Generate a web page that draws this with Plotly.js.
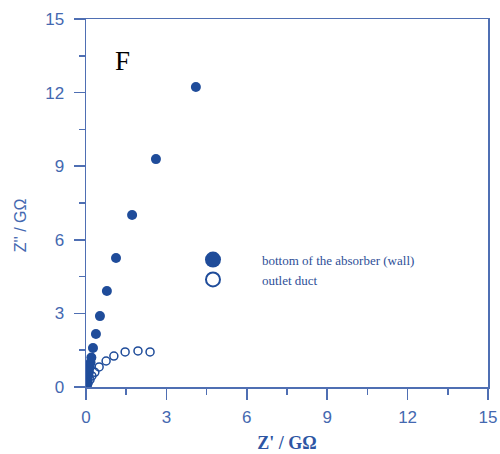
<!DOCTYPE html>
<html>
<head>
<meta charset="utf-8">
<script src="https://cdn.plot.ly/plotly-3.0.1.min.js"></script>
<style>html,body{margin:0;padding:0;background:#fff;}#chart{width:500px;height:454px;}</style>
</head>
<body>
<div id="chart"></div>
<script>
// bottom of the absorber (wall)
var wallX = [0.01, 0.02, 0.04, 0.06, 0.08, 0.11, 0.14, 0.17, 0.2, 0.26, 0.37, 0.52, 0.78, 1.12, 1.72, 2.61, 4.1];
var wallY = [0.04, 0.1, 0.2, 0.32, 0.45, 0.6, 0.8, 1.0, 1.2, 1.59, 2.16, 2.89, 3.91, 5.26, 7.01, 9.29, 12.23];
// outlet duct
var ductX = [0.02, 0.04, 0.08, 0.15, 0.22, 0.33, 0.49, 0.75, 1.04, 1.46, 1.94, 2.39];
var ductY = [0.03, 0.08, 0.16, 0.3, 0.45, 0.6, 0.82, 1.06, 1.26, 1.43, 1.47, 1.43];
var seriesNames = ['bottom of the absorber (wall)', 'outlet duct'];
var tickVals = [0, 3, 6, 9, 12, 15];
var tickText = ['0', '3', '6', '9', '12', '15'];

var dark = '#1f4c9a';
var axisCol = '#4f6fb3';
var labelCol = '#4468b0';
var serif = 'Liberation Serif, Times New Roman, serif';
var sans = 'Liberation Sans, Arial, sans-serif';

var traces = [
  {x: wallX, y: wallY, name: seriesNames[0], type: 'scatter', mode: 'markers', showlegend: false,
   marker: {color: dark, size: 10, line: {width: 0}}},
  {x: ductX, y: ductY, name: seriesNames[1], type: 'scatter', mode: 'markers', showlegend: false,
   marker: {color: 'rgba(255,255,255,0)', size: 8, line: {color: dark, width: 1.5}}},
  // legend entries (larger symbols, as in the original legend)
  {x: [null], y: [null], name: seriesNames[0], type: 'scatter', mode: 'markers',
   marker: {color: dark, size: 17, line: {width: 0}}},
  {x: [null], y: [null], name: seriesNames[1], type: 'scatter', mode: 'markers',
   marker: {color: 'rgba(255,255,255,0)', size: 14, line: {color: dark, width: 2}}}
];

var axisBase = {
  range: [0, 15], tickmode: 'array', tickvals: tickVals, ticktext: tickText,
  showgrid: false, zeroline: false, showline: true, mirror: true,
  linecolor: axisCol, linewidth: 1.5, ticks: 'outside', ticklen: 11, tickwidth: 1.5, tickcolor: axisCol,
  tickfont: {family: sans, size: 17, color: labelCol},
  minor: {dtick: 1.5, tick0: 0, ticks: 'outside', ticklen: 6, tickwidth: 1.5, tickcolor: axisCol, showgrid: false}
};

var layout = {
  width: 500, height: 454,
  margin: {l: 86, r: 12, t: 19, b: 67},
  paper_bgcolor: '#fff', plot_bgcolor: '#fff',
  showlegend: true,
  legend: {x: 0.194, y: 0.319, xanchor: 'left', yanchor: 'middle', bgcolor: 'rgba(0,0,0,0)',
           itemsizing: 'trace', itemwidth: 88, tracegroupgap: 0,
           font: {family: serif, size: 13, color: '#2e4f98'}},
  xaxis: Object.assign({}, axisBase, {
    ticklabelstandoff: 3,
    title: {text: "<b>Z' / GΩ</b>", font: {family: serif, size: 18, color: '#2d55a3'}, standoff: 10}
  }),
  yaxis: Object.assign({}, axisBase, {
    ticklabelstandoff: 6
  }),
  annotations: [
    {xref: 'paper', yref: 'paper', x: 0.092, y: 0.885, xanchor: 'center', yanchor: 'middle', showarrow: false,
     text: 'F', font: {family: serif, size: 27, color: '#000'}},
    {xref: 'paper', yref: 'paper', x: -0.164, y: 0.44, xanchor: 'center', yanchor: 'middle', showarrow: false,
     textangle: -90, text: "Z'' / GΩ", font: {family: sans, size: 16, color: labelCol}}
  ]
};

Plotly.newPlot('chart', traces, layout, {displayModeBar: false, staticPlot: true});
</script>
</body>
</html>
